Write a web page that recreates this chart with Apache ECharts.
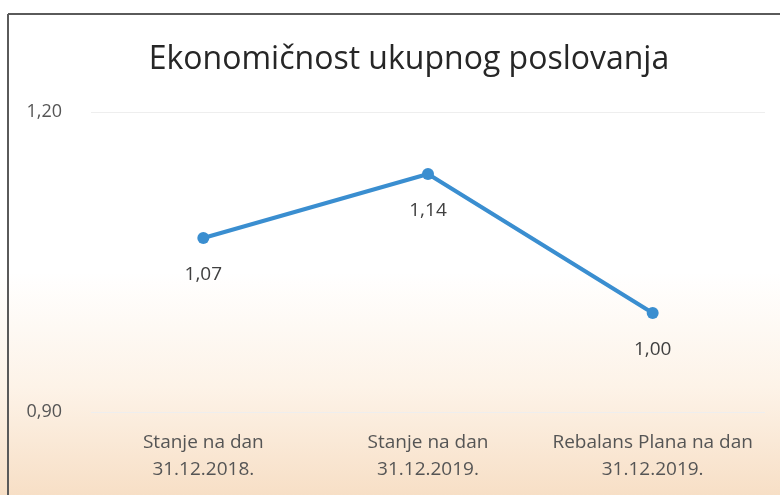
<!DOCTYPE html>
<html>
<head>
<meta charset="utf-8">
<script src="https://cdn.jsdelivr.net/npm/echarts@6/dist/echarts.min.js"></script>
<style>
  html, body { margin: 0; padding: 0; }
  body {
    width: 780px; height: 495px;
    background: linear-gradient(to bottom, #ffffff 0%, #ffffff 55%, #fdf3e8 78%, #f7dfc6 100%);
  }
</style>
</head>
<body>
<div id="chart" style="width: 780px; height: 495px;"></div>
<script>
  // podaci
  const categories = ['Stanje na dan\n31.12.2018.', 'Stanje na dan\n31.12.2019.', 'Rebalans Plana na dan\n31.12.2019.'];
  const values = [1.074, 1.138, 0.999];
  const yTicks = [0.9, 1.2];

  const fmt = v => v.toFixed(2).replace('.', ',');

  const myChart = echarts.init(document.getElementById('chart'));
  const option = {
    backgroundColor: 'transparent',
    textStyle: { fontFamily: 'Open Sans' },
    title: {
      text: 'Ekonomičnost ukupnog poslovanja',
      left: 404,
      textAlign: 'center',
      top: 39,
      textStyle: { fontSize: 32, fontWeight: 'normal', color: '#262626', fontFamily: 'Open Sans' }
    },
    grid: { left: 91, right: 15, top: 112, bottom: 83 },
    graphic: [
      // ramka skenirane slike
      { type: 'line', shape: { x1: 8, y1: 14, x2: 780, y2: 14 }, style: { stroke: '#5a5a5a', lineWidth: 2 } },
      { type: 'line', shape: { x1: 8, y1: 14, x2: 8, y2: 495 }, style: { stroke: '#5a5a5a', lineWidth: 2 } }
    ],
    xAxis: {
      type: 'category',
      data: categories,
      boundaryGap: true,
      axisLine: { show: false },
      axisTick: { show: false },
      axisLabel: {
        color: '#555555',
        fontSize: 19,
        lineHeight: 27,
        margin: 17,
        interval: 0
      }
    },
    yAxis: {
      type: 'value',
      min: yTicks[0],
      max: yTicks[1],
      interval: 0.3,
      axisLine: { show: false },
      axisTick: { show: false },
      splitLine: { lineStyle: { color: '#eeeeee', width: 1 } },
      axisLabel: {
        color: '#555555',
        fontSize: 18,
        margin: 29,
        formatter: v => fmt(v)
      }
    },
    series: [{
      type: 'line',
      data: values,
      lineStyle: { color: '#3a8ed0', width: 4 },
      itemStyle: { color: '#3a8ed0' },
      symbol: 'circle',
      symbolSize: 12,
      label: {
        show: true,
        position: 'bottom',
        distance: 21,
        color: '#404040',
        fontSize: 19,
        formatter: p => fmt(p.value)
      }
    }]
  };
  myChart.setOption(option);
</script>
</body>
</html>
